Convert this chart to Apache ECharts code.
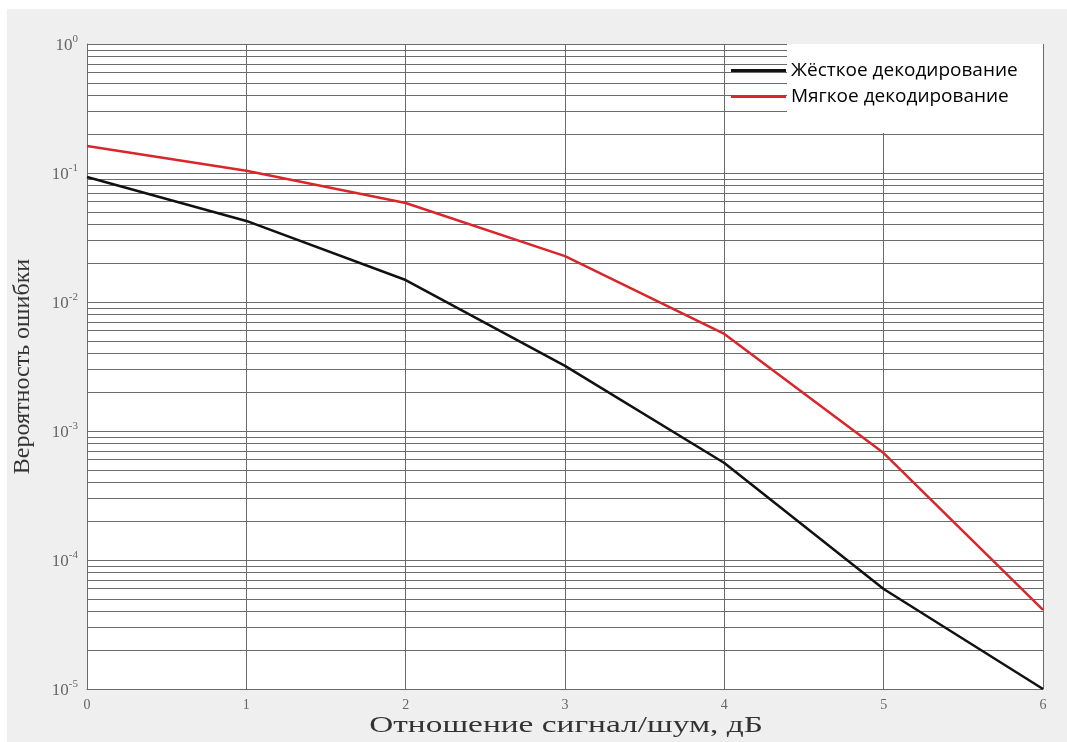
<!DOCTYPE html>
<html>
<head>
<meta charset="utf-8">
<script src="https://cdn.jsdelivr.net/npm/echarts@6/dist/echarts.min.js"></script>
<style>
    html, body { margin: 0; padding: 0; background: #ffffff; }
    #chart { position: absolute; left: 7px; top: 9px; width: 1060px; height: 733px; background: #efefef; }
</style>
</head>
<body>
<div id="chart"></div>
<script>
// отношение сигнал/шум, дБ
var snrDb = [0, 1, 2, 3, 4, 5, 6];
// вероятность ошибки
var hardDecoding = [0.093, 0.0425, 0.0148, 0.0032, 0.000565, 0.0000596, 0.00001];
var softDecoding = [0.162, 0.104, 0.0585, 0.0227, 0.00565, 0.000675, 0.000041];
var seriesNames = ['Жёсткое декодирование', 'Мягкое декодирование'];
var xTitle = 'Отношение сигнал/шум, дБ';
var yTitle = 'Вероятность ошибки';
// промежуточные линии сетки внутри каждой декады
var minorSteps = [2, 3, 4, 5, 6, 7, 8, 9];
var decades = [-5, -4, -3, -2, -1];

var minorLines = [];
for (var d = 0; d < decades.length; d++) {
    for (var m = 0; m < minorSteps.length; m++) {
        var v = minorSteps[m] * Math.pow(10, decades[d]);
        minorLines.push({ coords: [[snrDb[0], v], [snrDb[snrDb.length - 1], v]] });
    }
}

function pairs(ys) {
    var out = [];
    for (var i = 0; i < snrDb.length; i++) {
        out.push([snrDb[i], ys[i]]);
    }
    return out;
}

var myChart = echarts.init(document.getElementById('chart'));
var gridColor = '#6a6a6a';
var option = {
    animation: false,
    grid: {
        left: 80,
        top: 35,
        right: 24,
        bottom: 53,
        containLabel: false,
        outerBoundsMode: 'none',
        show: true,
        backgroundColor: '#ffffff',
        borderWidth: 0
    },
    graphic: [
        {
            type: 'rect',
            z: 10,
            shape: { x: 780, y: 35, width: 256, height: 89 },
            style: { fill: '#ffffff' }
        },
        {
            // подпись оси X в оригинале растянута по горизонтали
            type: 'text',
            x: 559,
            y: 717,
            scaleX: 1.39,
            style: {
                text: xTitle,
                fontFamily: 'Liberation Serif, serif',
                fontSize: 24,
                fill: '#333',
                align: 'center',
                verticalAlign: 'middle'
            }
        }
    ],
    legend: {
        left: 719,
        top: 47,
        z: 20,
        orient: 'vertical',
        icon: 'rect',
        itemWidth: 55,
        itemHeight: 3,
        itemGap: 7,
        textStyle: {
            fontFamily: 'Open Sans, sans-serif',
            fontSize: 19,
            color: '#000'
        },
        data: seriesNames
    },
    xAxis: {
        type: 'value',
        min: 0,
        max: 6,
        interval: 1,
        axisLine: { show: true, lineStyle: { color: gridColor, width: 1 } },
        axisTick: { show: false },
        axisLabel: {
            margin: 9,
            fontFamily: 'Liberation Serif, serif',
            fontSize: 14,
            color: '#666'
        },
        splitLine: { show: true, lineStyle: { color: gridColor, width: 1 } }
    },
    yAxis: {
        type: 'log',
        logBase: 10,
        min: 0.00001,
        max: 1,
        name: yTitle,
        nameLocation: 'middle',
        nameGap: 52,
        nameTextStyle: {
            fontFamily: 'Liberation Serif, serif',
            fontSize: 24,
            color: '#333'
        },
        axisLine: { show: true, lineStyle: { color: gridColor, width: 1 } },
        axisTick: { show: false },
        axisLabel: {
            margin: 9,
            fontFamily: 'Liberation Serif, serif',
            fontSize: 17,
            color: '#666',
            formatter: function (value) {
                var p = Math.round(Math.log(value) / Math.LN10);
                return '{base|10}{sup|' + p + '}';
            },
            rich: {
                base: {
                    fontFamily: 'Liberation Serif, serif',
                    fontSize: 17,
                    color: '#666',
                    padding: [4, 0, 0, 0]
                },
                sup: {
                    fontFamily: 'Liberation Serif, serif',
                    fontSize: 11,
                    color: '#666',
                    verticalAlign: 'top',
                    padding: [0, 0, 8, 0]
                }
            }
        },
        splitLine: { show: true, lineStyle: { color: gridColor, width: 1 } }
    },
    series: [
        {
            name: 'minor-grid',
            type: 'lines',
            coordinateSystem: 'cartesian2d',
            silent: true,
            z: 1,
            lineStyle: { color: gridColor, width: 1, opacity: 1 },
            data: minorLines
        },
        {
            name: seriesNames[0],
            type: 'line',
            symbol: 'none',
            z: 5,
            lineStyle: { color: '#111111', width: 2.5 },
            itemStyle: { color: '#111111' },
            data: pairs(hardDecoding)
        },
        {
            name: seriesNames[1],
            type: 'line',
            symbol: 'none',
            z: 5,
            lineStyle: { color: '#d8262a', width: 2.5 },
            itemStyle: { color: '#d8262a' },
            data: pairs(softDecoding)
        }
    ]
};
myChart.setOption(option);
</script>
</body>
</html>
